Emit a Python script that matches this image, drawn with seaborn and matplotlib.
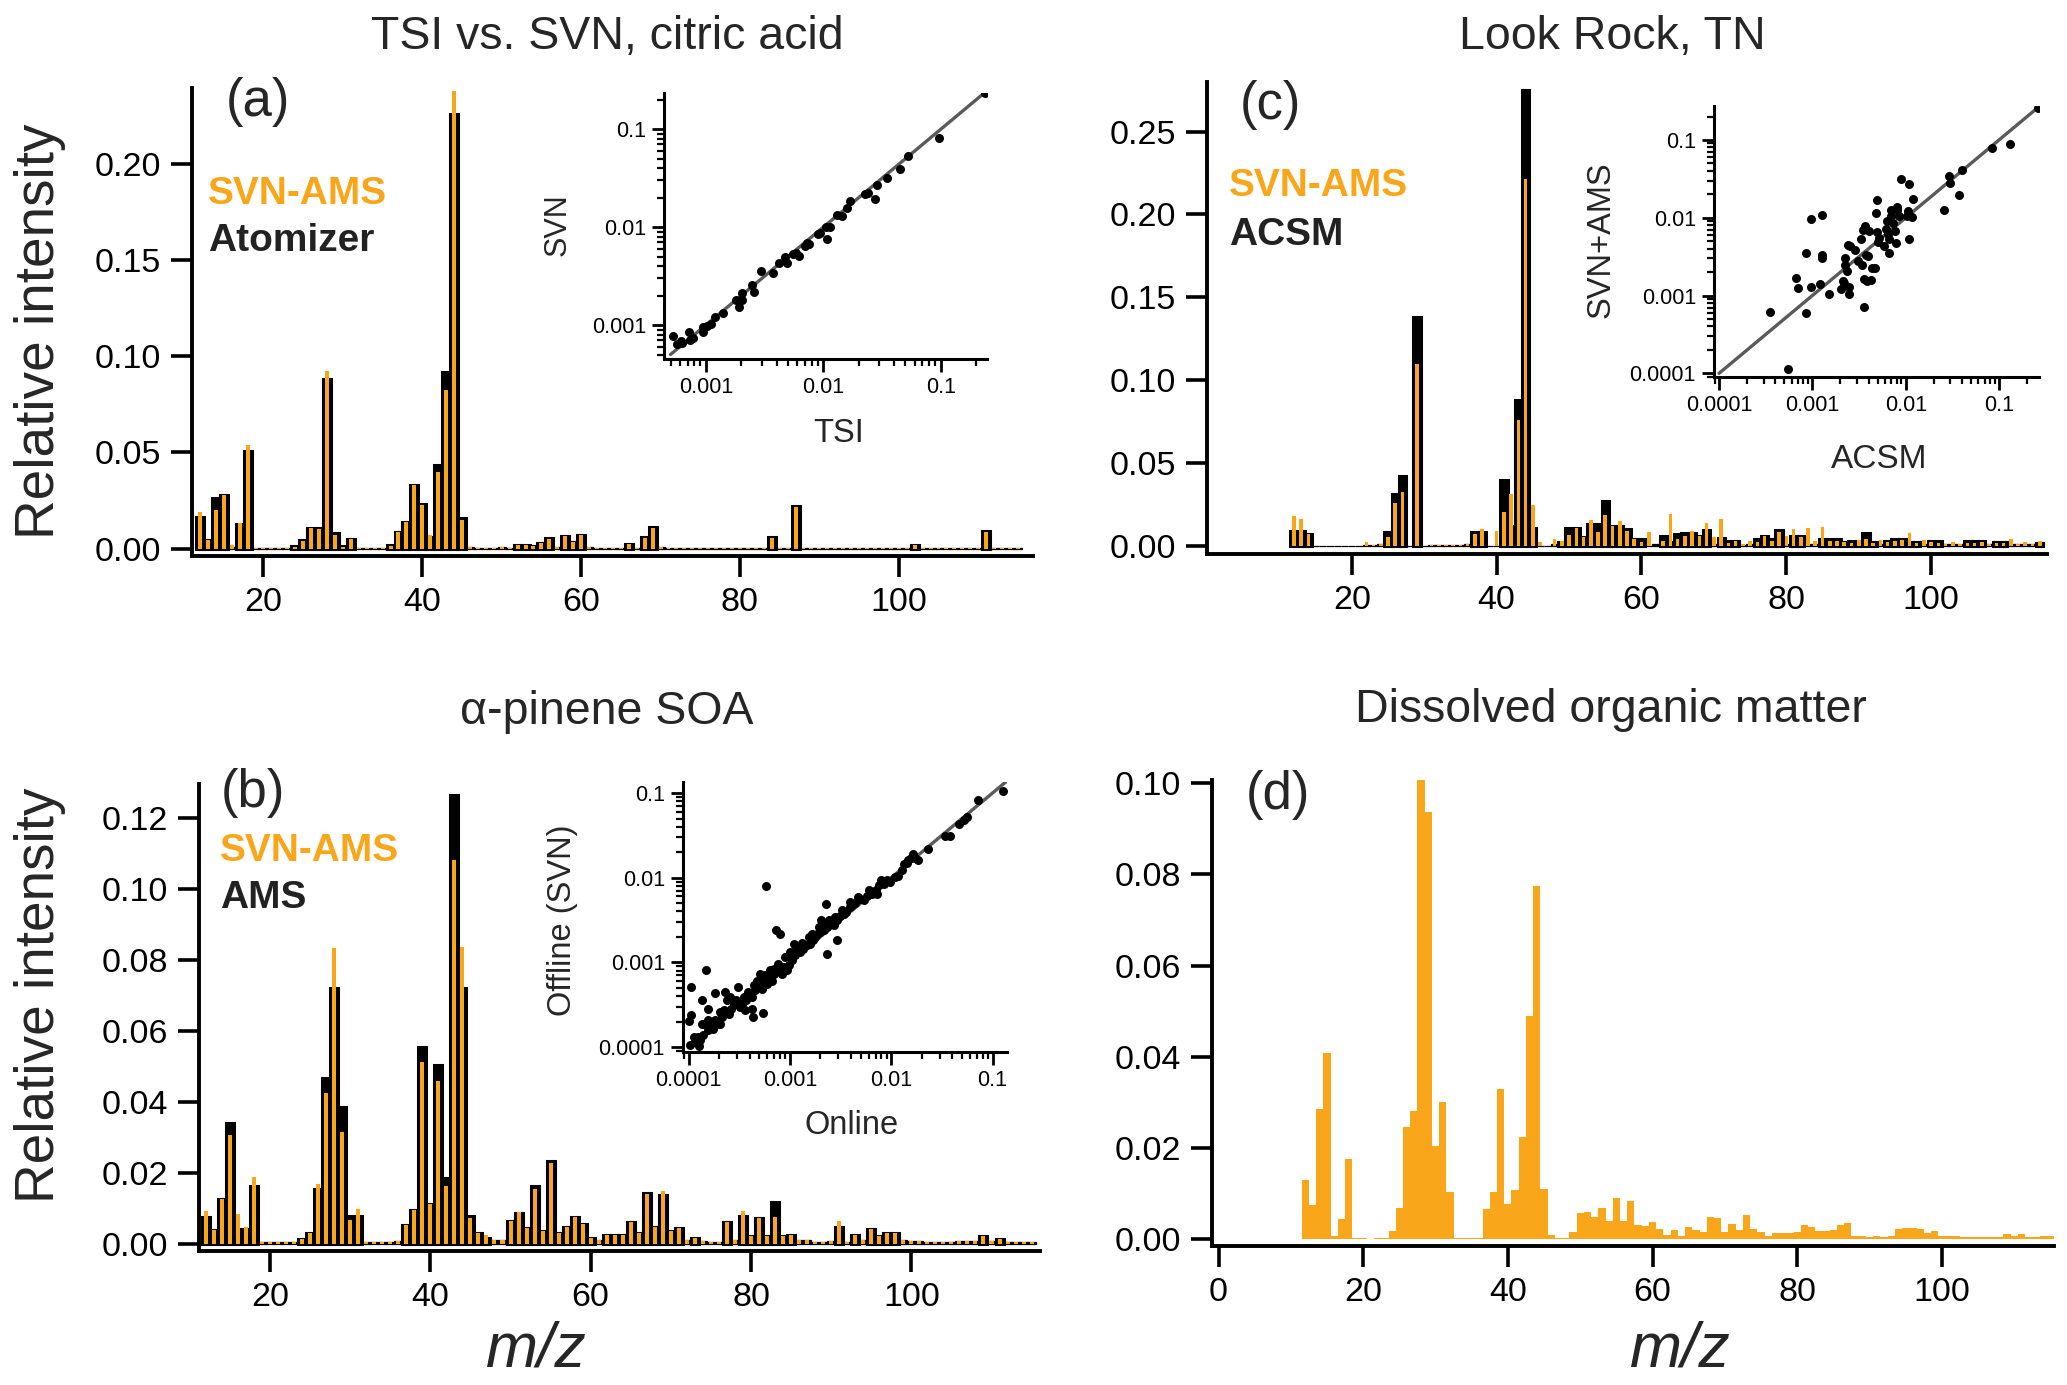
import numpy as np
import pandas as pd
import matplotlib
matplotlib.use('Agg')
import matplotlib.pyplot as plt
import seaborn as sns
from matplotlib.ticker import (FixedLocator, FixedFormatter, LogLocator,
                               NullFormatter, FormatStrFormatter)

# ---------------- data ----------------
mz = list(range(12, 116))

# (a) TSI vs SVN, citric acid
atomizer_a = [0.0163, 0.0042, 0.0263, 0.0277, 0.0010, 0.0128, 0.0509, 0.0004, 0.0004, 0.0004,
              0.0005, 0.0004, 0.0012, 0.0044, 0.0107, 0.0107, 0.0882, 0.0079, 0.0012, 0.0049,
              0.0003, 0.0003, 0.0003, 0.0003, 0.0018, 0.0088, 0.0137, 0.0333, 0.0233, 0.0060,
              0.0435, 0.0920, 0.2263, 0.0158, 0.0010, 0.0005, 0.0005, 0.0005, 0.0007, 0.0005,
              0.0018, 0.0018, 0.0015, 0.0030, 0.0054, 0.0010, 0.0067, 0.0035, 0.0070, 0.0010,
              0.0005, 0.0005, 0.0005, 0.0005, 0.0023, 0.0005, 0.0058, 0.0110, 0.0010, 0.0005,
              0.0003, 0.0003, 0.0003, 0.0003, 0.0003, 0.0003, 0.0003, 0.0003, 0.0003, 0.0003,
              0.0003, 0.0003, 0.0058, 0.0005, 0.0005, 0.0221, 0.0005, 0.0003, 0.0003, 0.0003,
              0.0003, 0.0003, 0.0003, 0.0003, 0.0003, 0.0003, 0.0003, 0.0003, 0.0003, 0.0003,
              0.0018, 0.0003, 0.0003, 0.0003, 0.0003, 0.0003, 0.0003, 0.0003, 0.0003, 0.0090,
              0.0005, 0.0003, 0.0005, 0.0005]
svn_a = [0.0190, 0.0046, 0.0198, 0.0277, 0.0020, 0.0133, 0.0537, 0.0003, 0.0003, 0.0003,
         0.0004, 0.0003, 0.0010, 0.0040, 0.0107, 0.0102, 0.0923, 0.0070, 0.0010, 0.0049,
         0.0003, 0.0003, 0.0003, 0.0003, 0.0015, 0.0088, 0.0137, 0.0330, 0.0228, 0.0070,
         0.0396, 0.0824, 0.2378, 0.0150, 0.0008, 0.0004, 0.0004, 0.0004, 0.0006, 0.0004,
         0.0018, 0.0018, 0.0014, 0.0028, 0.0052, 0.0008, 0.0065, 0.0033, 0.0068, 0.0008,
         0.0004, 0.0004, 0.0004, 0.0004, 0.0022, 0.0004, 0.0057, 0.0108, 0.0008, 0.0004,
         0.0003, 0.0003, 0.0003, 0.0003, 0.0003, 0.0003, 0.0003, 0.0003, 0.0003, 0.0003,
         0.0003, 0.0003, 0.0056, 0.0004, 0.0004, 0.0218, 0.0004, 0.0003, 0.0003, 0.0003,
         0.0003, 0.0003, 0.0003, 0.0003, 0.0003, 0.0003, 0.0003, 0.0003, 0.0003, 0.0003,
         0.0017, 0.0003, 0.0003, 0.0003, 0.0003, 0.0003, 0.0003, 0.0003, 0.0003, 0.0088,
         0.0004, 0.0003, 0.0004, 0.0004]

# (b) alpha-pinene SOA
ams_b = [0.0075, 0.0038, 0.0127, 0.0340, 0.0040, 0.0041, 0.0162, 0.0003, 0.0003, 0.0003,
         0.0003, 0.0005, 0.0012, 0.0030, 0.0155, 0.0467, 0.0722, 0.0385, 0.0079, 0.0079,
         0.0003, 0.0003, 0.0003, 0.0003, 0.0008, 0.0052, 0.0095, 0.0554, 0.0111, 0.0503,
         0.0185, 0.1264, 0.0722, 0.0079, 0.0030, 0.0015, 0.0010, 0.0010, 0.0065, 0.0085,
         0.0045, 0.0162, 0.0035, 0.0234, 0.0030, 0.0048, 0.0075, 0.0055, 0.0015, 0.0010,
         0.0025, 0.0025, 0.0025, 0.0060, 0.0030, 0.0143, 0.0048, 0.0137, 0.0035, 0.0045,
         0.0010, 0.0015, 0.0008, 0.0005, 0.0005, 0.0060, 0.0010, 0.0078, 0.0020, 0.0072,
         0.0020, 0.0117, 0.0020, 0.0025, 0.0010, 0.0010, 0.0005, 0.0005, 0.0008, 0.0048,
         0.0005, 0.0025, 0.0010, 0.0040, 0.0020, 0.0030, 0.0030, 0.0010, 0.0008, 0.0008,
         0.0005, 0.0005, 0.0003, 0.0005, 0.0008, 0.0008, 0.0008, 0.0020, 0.0008, 0.0012,
         0.0005, 0.0005, 0.0005, 0.0005]
svn_b = [0.0092, 0.0038, 0.0127, 0.0306, 0.0082, 0.0047, 0.0187, 0.0003, 0.0003, 0.0003,
         0.0003, 0.0005, 0.0012, 0.0030, 0.0168, 0.0425, 0.0834, 0.0315, 0.0066, 0.0098,
         0.0003, 0.0003, 0.0003, 0.0003, 0.0008, 0.0052, 0.0095, 0.0512, 0.0111, 0.0459,
         0.0162, 0.1082, 0.0837, 0.0073, 0.0030, 0.0024, 0.0010, 0.0010, 0.0065, 0.0090,
         0.0045, 0.0155, 0.0035, 0.0228, 0.0030, 0.0048, 0.0075, 0.0055, 0.0015, 0.0010,
         0.0025, 0.0025, 0.0025, 0.0060, 0.0030, 0.0140, 0.0048, 0.0147, 0.0035, 0.0045,
         0.0010, 0.0015, 0.0008, 0.0005, 0.0005, 0.0060, 0.0010, 0.0092, 0.0020, 0.0072,
         0.0020, 0.0075, 0.0020, 0.0025, 0.0010, 0.0010, 0.0005, 0.0005, 0.0008, 0.0065,
         0.0005, 0.0025, 0.0010, 0.0040, 0.0020, 0.0030, 0.0030, 0.0010, 0.0008, 0.0008,
         0.0005, 0.0005, 0.0003, 0.0005, 0.0008, 0.0008, 0.0008, 0.0020, 0.0008, 0.0012,
         0.0005, 0.0005, 0.0005, 0.0005]

# (c) Look Rock, TN
acsm_c = [0.0090, 0.0090, 0.0070, 0.0000, 0.0000, 0.0000, 0.0000, 0.0000, 0.0000, 0.0000,
          0.0003, 0.0003, 0.0010, 0.0080, 0.0310, 0.0420, 0.0000, 0.1380, 0.0000, 0.0003,
          0.0003, 0.0003, 0.0003, 0.0003, 0.0008, 0.0080, 0.0080, 0.0000, 0.0000, 0.0394,
          0.0120, 0.0880, 0.2750, 0.0110, 0.0000, 0.0000, 0.0010, 0.0020, 0.0110, 0.0110,
          0.0050, 0.0130, 0.0130, 0.0270, 0.0120, 0.0120, 0.0100, 0.0040, 0.0040, 0.0000,
          0.0010, 0.0060, 0.0020, 0.0070, 0.0075, 0.0075, 0.0060, 0.0096, 0.0010, 0.0047,
          0.0027, 0.0027, 0.0005, 0.0010, 0.0040, 0.0060, 0.0040, 0.0096, 0.0010, 0.0060,
          0.0060, 0.0010, 0.0010, 0.0040, 0.0040, 0.0040, 0.0020, 0.0030, 0.0030, 0.0075,
          0.0020, 0.0010, 0.0030, 0.0040, 0.0040, 0.0020, 0.0020, 0.0010, 0.0027, 0.0027,
          0.0010, 0.0010, 0.0010, 0.0027, 0.0027, 0.0030, 0.0010, 0.0020, 0.0020, 0.0010,
          0.0010, 0.0010, 0.0010, 0.0016]
svn_c = [0.0180, 0.0160, 0.0070, 0.0000, 0.0000, 0.0000, 0.0000, 0.0000, 0.0000, 0.0000,
         0.0020, 0.0003, 0.0010, 0.0050, 0.0255, 0.0327, 0.0000, 0.1100, 0.0000, 0.0003,
         0.0003, 0.0003, 0.0003, 0.0003, 0.0010, 0.0070, 0.0098, 0.0000, 0.0090, 0.0206,
         0.0310, 0.0760, 0.2215, 0.0245, 0.0025, 0.0000, 0.0040, 0.0030, 0.0065, 0.0106,
         0.0050, 0.0153, 0.0080, 0.0184, 0.0120, 0.0150, 0.0090, 0.0040, 0.0020, 0.0085,
         0.0000, 0.0030, 0.0190, 0.0040, 0.0060, 0.0090, 0.0060, 0.0140, 0.0055, 0.0160,
         0.0015, 0.0030, 0.0010, 0.0030, 0.0020, 0.0060, 0.0030, 0.0080, 0.0060, 0.0098,
         0.0050, 0.0110, 0.0027, 0.0116, 0.0030, 0.0030, 0.0020, 0.0015, 0.0035, 0.0040,
         0.0015, 0.0035, 0.0020, 0.0030, 0.0035, 0.0075, 0.0015, 0.0035, 0.0020, 0.0015,
         0.0010, 0.0020, 0.0010, 0.0015, 0.0015, 0.0020, 0.0010, 0.0015, 0.0015, 0.0040,
         0.0010, 0.0020, 0.0010, 0.0027]

# (d) Dissolved organic matter
svn_d = [0.0130, 0.0076, 0.0286, 0.0408, 0.0007, 0.0044, 0.0175, 0.0003, 0.0002, 0.0000,
         0.0003, 0.0002, 0.0017, 0.0068, 0.0245, 0.0280, 0.1010, 0.0936, 0.0205, 0.0300,
         0.0103, 0.0003, 0.0002, 0.0002, 0.0002, 0.0066, 0.0103, 0.0329, 0.0078, 0.0108,
         0.0223, 0.0490, 0.0775, 0.0111, 0.0010, 0.0003, 0.0003, 0.0015, 0.0058, 0.0060,
         0.0048, 0.0068, 0.0040, 0.0090, 0.0040, 0.0083, 0.0030, 0.0028, 0.0038, 0.0023,
         0.0010, 0.0020, 0.0008, 0.0026, 0.0020, 0.0015, 0.0048, 0.0046, 0.0015, 0.0033,
         0.0020, 0.0052, 0.0022, 0.0015, 0.0008, 0.0013, 0.0013, 0.0013, 0.0016, 0.0032,
         0.0027, 0.0018, 0.0018, 0.0020, 0.0032, 0.0035, 0.0006, 0.0006, 0.0004, 0.0008,
         0.0004, 0.0006, 0.0023, 0.0025, 0.0024, 0.0023, 0.0013, 0.0017, 0.0008, 0.0008,
         0.0006, 0.0004, 0.0004, 0.0004, 0.0004, 0.0004, 0.0005, 0.0012, 0.0008, 0.0012,
         0.0005, 0.0005, 0.0007, 0.0007]

# inset (a): TSI vs SVN
tsi_x = [0.00052, 0.00057, 0.00061, 0.00063, 0.00072, 0.00073, 0.00077, 0.00094, 0.00095, 0.00103,
         0.0011, 0.0012, 0.00141, 0.00182, 0.00192, 0.00205, 0.00205, 0.00245, 0.00256, 0.00292,
         0.0037, 0.00419, 0.00471, 0.00493, 0.00548, 0.00585, 0.00624, 0.00698, 0.00721, 0.0076,
         0.00906, 0.00937, 0.01054, 0.0108, 0.0114, 0.013, 0.0144, 0.016, 0.0169, 0.0226,
         0.0242, 0.0275, 0.0285, 0.0347, 0.045, 0.0527, 0.0968, 0.239]
svn_y = [0.00077, 0.00064, 0.00068, 0.00065, 0.00084, 0.00071, 0.00073, 0.00096, 0.00085, 0.00098,
         0.00102, 0.00122, 0.00132, 0.0018, 0.00154, 0.00211, 0.0018, 0.00256, 0.00216, 0.00356,
         0.00343, 0.00434, 0.00492, 0.00434, 0.00527, 0.00548, 0.00507, 0.00641, 0.00695, 0.00668,
         0.00851, 0.00879, 0.0101, 0.00763, 0.0101, 0.0133, 0.013, 0.0156, 0.0187, 0.0218,
         0.0222, 0.0194, 0.0268, 0.0318, 0.039, 0.0533, 0.0822, 0.237]

# inset (c): ACSM vs SVN+AMS
acsm_x = [0.000351, 0.000544, 0.00066, 0.0007, 0.00085, 0.00085, 0.00096, 0.00097, 0.00121, 0.00126,
          0.00128, 0.00128, 0.00151, 0.00201, 0.00215, 0.00218, 0.00224, 0.00224, 0.00237, 0.00243,
          0.00249, 0.00253, 0.00249, 0.00287, 0.00311, 0.0033, 0.00338, 0.00352, 0.00358, 0.00358,
          0.0037, 0.00372, 0.00382, 0.00398, 0.00408, 0.00425, 0.0044, 0.00469, 0.00481, 0.00493,
          0.00493, 0.00506, 0.00518, 0.0059, 0.0061, 0.00631, 0.00652, 0.00663, 0.00668, 0.00691,
          0.00691, 0.00738, 0.00769, 0.00801, 0.00801, 0.00787, 0.00849, 0.00892, 0.0103, 0.0105,
          0.0108, 0.0109, 0.0118, 0.0121, 0.0258, 0.0291, 0.0299, 0.0376, 0.0398, 0.0849,
          0.131, 0.26]
svnams_y = [0.000622, 0.000115, 0.0017, 0.00124, 0.00348, 0.0006, 0.0096, 0.00128, 0.0014, 0.0108,
            0.00327, 0.00303, 0.00105, 0.00123, 0.00156, 0.00147, 0.00303, 0.00248, 0.00208, 0.00449,
            0.00128, 0.00428, 0.00105, 0.00387, 0.00279, 0.00537, 0.00248, 0.007, 0.00162, 0.00072,
            0.00773, 0.00327, 0.00156, 0.00318, 0.00667, 0.00159, 0.00225, 0.00225, 0.0115, 0.0171,
            0.00647, 0.00481, 0.00547, 0.00428, 0.00714, 0.00915, 0.00622, 0.00531, 0.00351, 0.0104,
            0.0127, 0.00853, 0.00667, 0.0127, 0.0137, 0.00472, 0.0104, 0.0315, 0.0104, 0.0123,
            0.00531, 0.0274, 0.0101, 0.0174, 0.0124, 0.0348, 0.0279, 0.0198, 0.0415, 0.0788,
            0.0887, 0.258]

# inset (b): Online vs Offline (SVN)
online_x = [1.06e-4, 1.06e-4, 1.0e-4, 1.49e-4, 5.8e-4, 2.26e-3, 7.3e-4, 8.0e-4, 5.4e-4, 2.04e-3,
            2.32e-3, 2.91e-3, 4.3e-4, 1.57e-4, 1.35e-4, 0.1265, 0.0716, 0.0558, 0.0518, 0.0472,
            0.0382, 0.0341, 0.0233, 0.0183, 0.0163, 0.0156, 0.0143, 0.0134, 0.0118, 0.0098,
            0.0091, 0.0080, 0.0075, 0.0070, 0.0065, 0.00575, 0.00533, 0.00465, 0.00442, 0.00409,
            0.00394, 0.0036, 0.00339, 0.00314, 0.00291, 0.0027, 0.00254, 0.00232, 0.00218, 0.00199,
            0.00185, 0.00178, 0.00171, 0.00159, 0.00147, 0.00136, 0.00126, 0.00122, 0.00113, 0.00105,
            0.00109, 9.7e-4, 9.3e-4, 8.7e-4, 8.3e-4, 7.7e-4, 7.4e-4, 7.0e-4, 6.6e-4, 6.4e-4,
            5.9e-4, 5.7e-4, 5.3e-4, 5.1e-4, 4.8e-4, 4.55e-4, 4.4e-4, 4.2e-4, 3.9e-4, 3.7e-4,
            3.5e-4, 3.36e-4, 3.19e-4, 3.05e-4, 2.95e-4, 2.78e-4, 2.62e-4, 2.48e-4, 2.39e-4, 2.25e-4,
            2.13e-4, 2.02e-4, 1.9e-4, 1.81e-4, 1.74e-4, 1.64e-4, 1.54e-4, 1.46e-4, 1.38e-4, 1.3e-4,
            1.23e-4, 1.16e-4, 1.12e-4, 1.04e-4, 1.28e-4, 1.83e-4, 2.27e-4, 1.35e-4, 1.57e-4, 2.05e-4,
            2.58e-4, 3.0e-4, 3.62e-4, 4.2e-4, 4.72e-4, 5.5e-4, 6.15e-4, 6.9e-4, 9.0e-4, 1.0e-3,
            1.15e-3, 1.31e-3, 1.53e-3, 1.65e-3, 1.92e-3, 2.15e-3, 2.41e-3, 2.8e-3, 3.26e-3, 3.94e-3,
            4.94e-3, 6.1e-3, 7.2e-3, 8.4e-3, 0.0109, 0.0127, 0.0148, 0.0173]
offline_y = [5.1e-4, 2.37e-4, 2.03e-4, 8.2e-4, 8.0e-3, 4.9e-3, 2.43e-3, 2.14e-3, 2.52e-4, 3.13e-3,
             1.27e-3, 1.85e-3, 2.26e-4, 2.84e-4, 3.56e-4, 0.107, 0.0834, 0.0521, 0.0484, 0.0434,
             0.031, 0.0308, 0.022, 0.0163, 0.0189, 0.0172, 0.0149, 0.0144, 0.0104, 0.0089,
             0.0093, 0.0093, 0.0081, 0.0071, 0.0065, 0.0060, 0.0055, 0.0059, 0.0050, 0.0047,
             0.0045, 0.00393, 0.00376, 0.00349, 0.00319, 0.00274, 0.00281, 0.00261, 0.00243, 0.00228,
             0.00218, 0.00199, 0.00182, 0.00166, 0.00159, 0.00145, 0.00132, 0.00152, 0.00121, 0.00107,
             0.00166, 9.2e-4, 8.05e-4, 8.8e-4, 7.35e-4, 9.6e-4, 7.8e-4, 7.2e-4, 6.1e-4, 8.05e-4,
             5.6e-4, 7.0e-4, 4.9e-4, 7.35e-4, 5.6e-4, 4.67e-4, 5.35e-4, 3.9e-4, 4.47e-4, 3.56e-4,
             3.9e-4, 3.25e-4, 2.97e-4, 5.1e-4, 3.56e-4, 3.25e-4, 2.84e-4, 2.48e-4, 3.56e-4, 2.71e-4,
             2.26e-4, 2.59e-4, 1.89e-4, 2.07e-4, 1.65e-4, 1.72e-4, 1.57e-4, 1.89e-4, 1.37e-4, 1.2e-4,
             1.31e-4, 1.15e-4, 1.31e-4, 1.05e-4, 1.02e-4, 4.34e-4, 4.47e-4, 1.89e-4, 2.07e-4, 1.89e-4,
             3.9e-4, 3.25e-4, 2.71e-4, 2.84e-4, 6.1e-4, 6.4e-4, 6.7e-4, 8.4e-4, 1.16e-3, 1.32e-3,
             1.39e-3, 1.69e-3, 1.99e-3, 2.18e-3, 2.61e-3, 2.86e-3, 3.13e-3, 3.43e-3, 4.11e-3, 5.16e-3,
             5.65e-3, 7.1e-3, 6.5e-3, 8.5e-3, 0.0102, 0.0122, 0.016, 0.0172]

# 1:1 reference line ends for the insets
line_a = [0.0005, 0.245]
line_b = [0.0001, 0.139]
line_c = [0.0001, 0.26]

decade_ticks = [0.0001, 0.001, 0.01, 0.1]
decade_labels = ['0.0001', '0.001', '0.01', '0.1']

# ---------------- styling ----------------
ORANGE = '#F9A61A'
BLACK = '#000000'
sns.set_theme(style='white')
plt.rcParams['font.family'] = ['Liberation Sans', 'DejaVu Sans']
plt.rcParams['axes.unicode_minus'] = False

W, H = 2067, 1385
fig = plt.figure(figsize=(W / 100, H / 100), dpi=100)


def rect(l, t, r, b):
    return [l / W, 1 - b / H, (r - l) / W, (b - t) / H]


def ft(x, y, s, **kw):
    kw.setdefault('ha', 'center')
    kw.setdefault('va', 'center')
    fig.text(x / W, 1 - y / H, s, **kw)


def bars(ax, vals, color, width, lw, ec):
    df = pd.DataFrame({'mz': mz, 'v': vals})
    n0 = len(ax.patches)
    sns.barplot(data=df, x='mz', y='v', native_scale=True, width=width, color=color,
                saturation=1, errorbar=None, linewidth=lw, edgecolor=ec, ax=ax)
    if lw > 0:
        # thin outline for near-zero bars so the baseline stays a light dashed trace
        for p in ax.patches[n0:]:
            if p.get_height() < 0.0012:
                p.set_linewidth(0.9)


def style_main(ax, xlim, ylim, yticks, xticks):
    ax.set_xlim(*xlim)
    ax.set_ylim(*ylim)
    ax.set_facecolor('none')
    ax.grid(False)
    for s in ['top', 'right']:
        ax.spines[s].set_visible(False)
    for s in ['left', 'bottom']:
        ax.spines[s].set_linewidth(2.8)
        ax.spines[s].set_color('black')
    ax.set_yticks(yticks)
    ax.yaxis.set_major_formatter(FormatStrFormatter('%.2f'))
    ax.set_xticks(xticks)
    ax.set_xticklabels([str(t) for t in xticks])
    ax.tick_params(axis='both', which='major', direction='out', length=15, width=2.6,
                   labelsize=24.5, color='black', labelcolor='black', pad=7,
                   bottom=True, left=True)
    ax.set_xlabel('')
    ax.set_ylabel('')


def inset(r, x, y, line, xlim, ylim):
    ax = fig.add_axes(r)
    ax.set_xscale('log')
    ax.set_yscale('log')
    sns.lineplot(x=line, y=line, color='#5a5a5a', linewidth=2.4, ax=ax, zorder=1)
    sns.scatterplot(x=x, y=y, color='black', s=42, linewidth=0, ax=ax, zorder=3)
    ax.set_xlim(*xlim)
    ax.set_ylim(*ylim)
    ax.set_facecolor('none')
    ax.grid(False)
    for s in ['top', 'right']:
        ax.spines[s].set_visible(False)
    for s in ['left', 'bottom']:
        ax.spines[s].set_linewidth(2.2)
        ax.spines[s].set_color('black')
    for axis in (ax.xaxis, ax.yaxis):
        axis.set_major_locator(FixedLocator(decade_ticks))
        axis.set_major_formatter(FixedFormatter(decade_labels))
        axis.set_minor_locator(LogLocator(base=10, subs=np.arange(2, 10)))
        axis.set_minor_formatter(NullFormatter())
    ax.tick_params(axis='both', which='major', direction='out', length=9, width=2.0,
                   labelsize=15.5, color='black', labelcolor='black', pad=4,
                   bottom=True, left=True)
    ax.tick_params(axis='both', which='minor', direction='out', length=5, width=1.6,
                   color='black', bottom=True, left=True)
    ax.set_xlabel('')
    ax.set_ylabel('')
    return ax


# ---------------- panel (a) ----------------
ax_a = fig.add_axes(rect(192, 88, 1033, 556))
bars(ax_a, atomizer_a, BLACK, 1.0, 2.2, BLACK)
bars(ax_a, svn_a, ORANGE, 0.5, 0, 'none')
style_main(ax_a, (11.0, 116.9), (-0.0039, 0.2396), [0, 0.05, 0.10, 0.15, 0.20],
           [20, 40, 60, 80, 100])

# ---------------- panel (c) ----------------
ax_c = fig.add_axes(rect(1207, 82, 2047, 554))
bars(ax_c, acsm_c, BLACK, 1.0, 2.2, BLACK)
bars(ax_c, svn_c, ORANGE, 0.5, 0, 'none')
style_main(ax_c, (0.0, 116.0), (-0.005, 0.28), [0, 0.05, 0.10, 0.15, 0.20, 0.25],
           [20, 40, 60, 80, 100])

# ---------------- panel (b) ----------------
ax_b = fig.add_axes(rect(199, 784, 1040, 1251))
bars(ax_b, ams_b, BLACK, 1.0, 2.2, BLACK)
bars(ax_b, svn_b, ORANGE, 0.5, 0, 'none')
style_main(ax_b, (11.14, 116.05), (-0.0021, 0.1296), [0, 0.02, 0.04, 0.06, 0.08, 0.10, 0.12],
           [20, 40, 60, 80, 100])

# ---------------- panel (d) ----------------
ax_d = fig.add_axes(rect(1212, 780, 2054, 1246))
bars(ax_d, svn_d, ORANGE, 1.0, 0, 'none')
style_main(ax_d, (-0.9, 115.5), (-0.0015, 0.1007), [0, 0.02, 0.04, 0.06, 0.08, 0.10],
           [0, 20, 40, 60, 80, 100])

# ---------------- insets ----------------
inset(rect(664, 93, 987, 359), tsi_x, svn_y, line_a, (0.00044, 0.248), (0.00045, 0.235))
inset(rect(1714, 106, 2039, 377), acsm_x, svnams_y, line_c, (8.83e-5, 0.268), (8.97e-5, 0.273))
inset(rect(683, 782, 1007, 1052), online_x, offline_y, line_b, (8.81e-5, 0.139), (8.73e-5, 0.135))

# ---------------- texts ----------------
ft(607, 37, 'TSI vs. SVN, citric acid', fontsize=33.5)
ft(1612, 37, 'Look Rock, TN', fontsize=33.5)
ft(607, 712, '\u03b1-pinene SOA', fontsize=33.5)
ft(1611, 710, 'Dissolved organic matter', fontsize=33.5)

ft(40, 331, 'Relative intensity', rotation=90, fontsize=39.5)
ft(40, 995, 'Relative intensity', rotation=90, fontsize=39.5)
ft(536, 1350, 'm/z', fontsize=45, style='italic')
ft(1680, 1350, 'm/z', fontsize=45, style='italic')

ft(258, 102, '(a)', fontsize=38)
ft(1270, 105, '(c)', fontsize=38)
ft(253, 793, '(b)', fontsize=38)
ft(1278, 795, '(d)', fontsize=38)

ft(208, 194, 'SVN-AMS', ha='left', fontsize=28, fontweight='bold', color=ORANGE)
ft(208, 241, 'Atomizer', ha='left', fontsize=28, fontweight='bold', color='#222222')
ft(1229, 186, 'SVN-AMS', ha='left', fontsize=28, fontweight='bold', color=ORANGE)
ft(1229, 235, 'ACSM', ha='left', fontsize=28, fontweight='bold', color='#222222')
ft(220, 851, 'SVN-AMS', ha='left', fontsize=28, fontweight='bold', color=ORANGE)
ft(220, 898, 'AMS', ha='left', fontsize=28, fontweight='bold', color='#222222')

ft(558, 225, 'SVN', rotation=90, fontsize=22)
ft(839, 434, 'TSI', fontsize=23.5)
ft(1601, 240, 'SVN+AMS', rotation=90, fontsize=23.5)
ft(1879, 459, 'ACSM', fontsize=24)
ft(563, 920, 'Offline (SVN)', rotation=90, fontsize=23.5)
ft(852, 1125, 'Online', fontsize=23.5)

fig.savefig('out.png', dpi=100, facecolor='white')
